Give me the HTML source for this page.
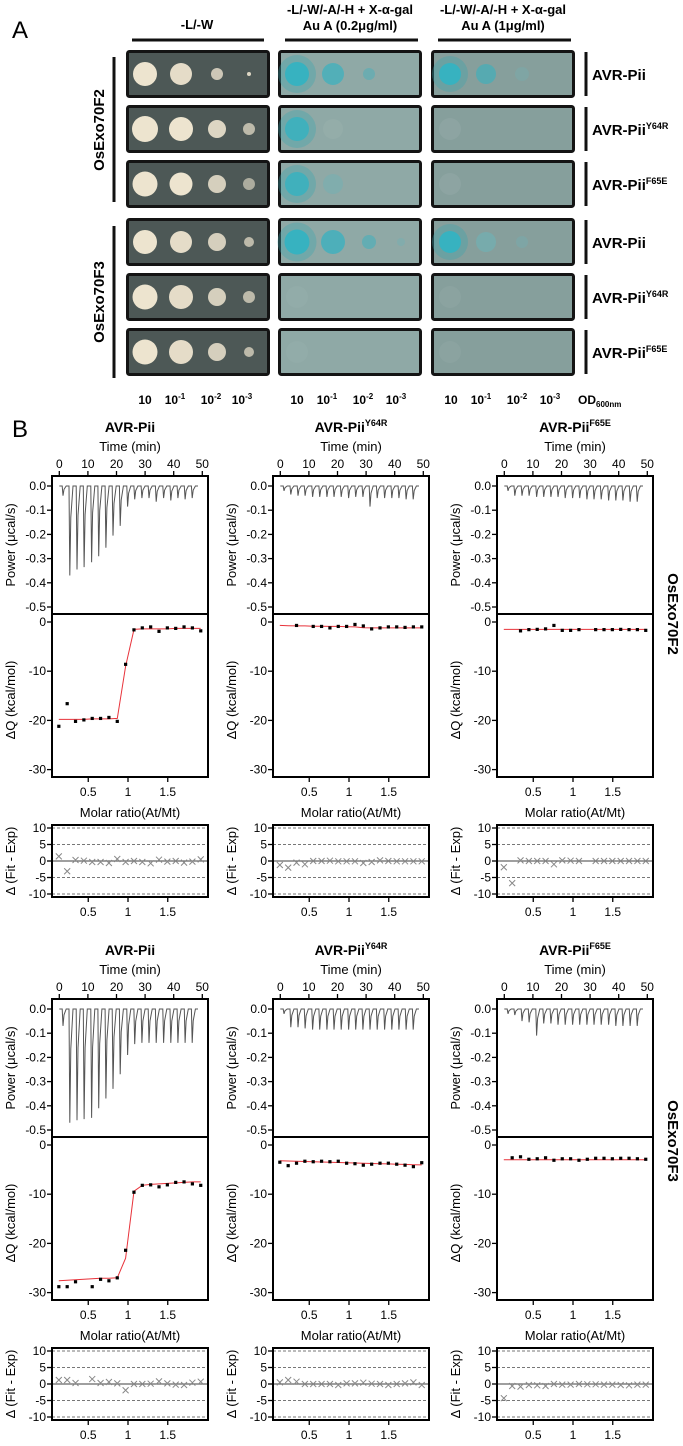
<!DOCTYPE html>
<html><head><meta charset="utf-8">
<style>
html,body{margin:0;padding:0;background:#fff;}
svg{display:block;font-family:"Liberation Sans",Arial,sans-serif;}
</style></head>
<body>
<svg id="fig" width="683" height="1446" viewBox="0 0 683 1446" xmlns="http://www.w3.org/2000/svg">
  <text x="12" y="38" font-size="24">A</text>
  <text x="12" y="437" font-size="24">B</text>
  <g font-weight="bold" font-size="13" text-anchor="middle">
    <text x="197" y="29">-L/-W</text>
    <text x="350" y="14">-L/-W/-A/-H + X-α-gal</text>
    <text x="350" y="30">Au A (0.2μg/ml)</text>
    <text x="503" y="14">-L/-W/-A/-H + X-α-gal</text>
    <text x="503" y="30">Au A (1μg/ml)</text>
  </g>
  <g stroke="#111" stroke-width="3">
    <line x1="132" y1="40" x2="264" y2="40"/>
    <line x1="285" y1="40" x2="418" y2="40"/>
    <line x1="438" y1="40" x2="571" y2="40"/>
    <line x1="114" y1="57" x2="114" y2="202"/>
    <line x1="114" y1="226" x2="114" y2="378"/>
  </g>
  <text transform="translate(104,130) rotate(-90)" text-anchor="middle" font-weight="bold" font-size="15">OsExo70F2</text>
  <text transform="translate(104,302) rotate(-90)" text-anchor="middle" font-weight="bold" font-size="15">OsExo70F3</text>
  <g id="plates"></g>
  <g id="itc"></g>
  <text transform="translate(668,614) rotate(90)" text-anchor="middle" font-weight="bold" font-size="15">OsExo70F2</text>
  <text transform="translate(668,1141) rotate(90)" text-anchor="middle" font-weight="bold" font-size="15">OsExo70F3</text>
</svg>
<script>
// ---------- ITC data ----------
const injTimes = [1.0,3.4,5.9,8.4,11.0,13.5,16.0,18.5,21.0,23.6,26.1,28.6,31.1,33.6,36.2,38.7,41.2,43.7,46.2];
const molar = [0.13,0.235,0.34,0.445,0.55,0.655,0.76,0.865,0.97,1.075,1.18,1.285,1.39,1.495,1.6,1.705,1.81,1.915];

const powerF2WT = [-0.04,-0.37,-0.345,-0.335,-0.315,-0.29,-0.255,-0.205,-0.165,-0.085,-0.055,-0.05,-0.05,-0.065,-0.05,-0.06,-0.05,-0.055,-0.05];
const dqF2WT = [-21.2,-16.6,-20.2,-19.9,-19.6,-19.6,-19.4,-20.2,-8.6,-1.6,-1.2,-1.0,-1.9,-1.2,-1.3,-1.0,-1.2,-1.8];
const fitF2WT = [-19.8,-19.8,-19.8,-19.8,-19.7,-19.7,-19.7,-19.6,-9.0,-1.5,-1.4,-1.4,-1.4,-1.4,-1.3,-1.3,-1.3,-1.3];
const resF2WT = [1.4,-3.1,0.3,0.1,-0.3,-0.3,-0.6,0.6,-0.3,0,-0.3,-0.7,0.4,-0.2,0,-0.5,-0.2,0.5];

const powerF2Y64R = [-0.02,-0.035,-0.04,-0.04,-0.045,-0.045,-0.045,-0.045,-0.045,-0.05,-0.045,-0.045,-0.085,-0.05,-0.05,-0.05,-0.05,-0.055,-0.055];
const dqF2Y64R = [null,null,-0.7,null,-0.9,-0.9,-1.2,-0.9,-0.9,-0.5,-0.8,-1.4,-1.2,-1.0,-1.0,-1.1,-1.0,-1.0];
const fitF2Y64R = [-0.7,-0.75,-0.8,-0.8,-0.85,-0.85,-0.9,-0.9,-0.95,-1.0,-1.15,-1.2,-1.2,-1.2,-1.2,-1.2,-1.2,-1.2];
const resF2Y64R = [-1.2,-2.0,-0.5,-1.0,0,0,0.1,-0.1,-0.1,-0.1,-0.6,-0.3,0.2,0,-0.1,-0.1,-0.1,-0.1];

const powerF2F65E = [-0.02,-0.04,-0.04,-0.04,-0.045,-0.045,-0.045,-0.045,-0.05,-0.05,-0.05,-0.055,-0.055,-0.055,-0.06,-0.06,-0.06,-0.065,-0.065];
const dqF2F65E = [null,null,-1.8,-1.55,-1.5,-1.4,-0.7,-1.7,-1.7,-1.55,null,-1.55,-1.55,-1.55,-1.5,-1.55,-1.55,-1.7];
const fitF2F65E = [-1.5,-1.5,-1.5,-1.5,-1.5,-1.5,-1.5,-1.5,-1.5,-1.5,-1.5,-1.5,-1.5,-1.5,-1.5,-1.5,-1.5,-1.5];
const resF2F65E = [-1.9,-6.7,0.2,0,0,0,-1.0,0.2,0.1,0,null,0,0,0,0,0,0,0];

const powerF3WT = [-0.07,-0.47,-0.46,-0.455,-0.45,-0.41,-0.37,-0.33,-0.27,-0.19,-0.145,-0.14,-0.14,-0.14,-0.14,-0.14,-0.14,-0.14,-0.14];
const dqF3WT = [-28.8,-28.8,-27.8,null,-28.8,-27.3,-27.6,-27.0,-21.4,-9.6,-8.2,-8.1,-8.5,-8.1,-7.6,-7.5,-7.9,-8.2];
const fitF3WT = [-27.6,-27.5,-27.4,-27.3,-27.2,-27.1,-27.1,-27.0,-23.0,-9.4,-8.2,-8.0,-7.9,-7.8,-7.7,-7.6,-7.5,-7.5];
const resF3WT = [1.2,1.2,0.3,null,1.5,0.3,0.6,0.2,-1.9,0,0,0.1,0.8,0.2,-0.2,-0.3,0.4,0.7];

const powerF3Y64R = [-0.02,-0.075,-0.075,-0.08,-0.085,-0.085,-0.085,-0.085,-0.085,-0.085,-0.085,-0.085,-0.085,-0.085,-0.085,-0.085,-0.085,-0.085,-0.085];
const dqF3Y64R = [-3.5,-4.2,-3.7,-3.3,-3.4,-3.3,-3.4,-3.3,-3.7,-3.8,-4.1,-3.9,-3.7,-3.7,-3.9,-4.1,-4.4,-3.6];
const fitF3Y64R = [-3.2,-3.25,-3.3,-3.35,-3.4,-3.45,-3.5,-3.55,-3.6,-3.65,-3.7,-3.75,-3.8,-3.85,-3.9,-3.95,-4.0,-4.05];
const resF3Y64R = [0.5,1.2,0.7,0,0,0,0,-0.3,0.2,0.2,0.4,0.1,0,-0.3,0,0.2,0.5,-0.3];

const powerF3F65E = [-0.02,-0.025,-0.05,-0.055,-0.11,-0.06,-0.06,-0.065,-0.065,-0.065,-0.065,-0.065,-0.065,-0.065,-0.065,-0.07,-0.07,-0.07,-0.07];
const dqF3F65E = [null,-2.6,-2.4,-2.9,-2.8,-2.6,-3.1,-2.8,-2.8,-3.1,-2.9,-2.7,-2.7,-2.8,-2.7,-2.7,-2.8,-2.9];
const fitF3F65E = [-3.0,-3.0,-3.0,-3.0,-3.0,-3.0,-3.0,-3.0,-3.0,-3.0,-3.0,-3.0,-3.0,-3.0,-3.0,-3.0,-3.0,-3.0];
const resF3F65E = [-4.3,-0.6,-0.8,-0.3,-0.4,-0.6,0,-0.2,-0.2,0,-0.1,-0.1,-0.2,-0.2,-0.3,-0.4,-0.2,-0.2];

const timeTicks = [0,10,20,30,40,50];
const powerTicks = [0.0,-0.1,-0.2,-0.3,-0.4,-0.5];
const dqTicks = [0,-10,-20,-30];
const resTicks = [10,5,0,-5,-10];
const molarTicks = [0.5,1,1.5];

// ---------- panel A data ----------
const dilutionLabels = ['10','10','10','10'];
const dilutionExps = ['','-1','-2','-3'];
const constructNames = ['Y64R','F65E'];

const NS = 'http://www.w3.org/2000/svg';
function el(tag, attrs, parent){
  const e = document.createElementNS(NS, tag);
  for (const k in attrs) e.setAttribute(k, attrs[k]);
  parent.appendChild(e);
  return e;
}

// ---------- Panel A plates ----------
const plates = document.getElementById('plates');
const plateLefts = [126,278,431];
const plateTops = [50,105,160,218,273,328];
const plateBg = ['#4d5856','#8fa9a6','#869f9c'];
const spotOff = [19,55,91,123];
const cream = '#ede4cf', blue = '#37b2c0', fblue = '#6fb2b6', ghost = '#9cb3b0', ghost3 = '#93aaa7';
// spot specs: [color, radius, opacity] for each of 4 dilutions
const spotsCol1 = [
  [[cream,12,1],[cream,11,0.95],[cream,6,0.8],[cream,2,0.9]],
  [[cream,13,1],[cream,12,1],[cream,9,0.9],[cream,6,0.7]],
  [[cream,12.5,1],[cream,11.5,1],[cream,9,0.85],[cream,6,0.6]],
  [[cream,12,1],[cream,11,0.95],[cream,9,0.85],[cream,5,0.7]],
  [[cream,12.5,1],[cream,12,0.95],[cream,9,0.85],[cream,6,0.7]],
  [[cream,12.5,1],[cream,12,0.95],[cream,9,0.85],[cream,5,0.7]]
];
const spotsCol2 = [
  [[blue,12,1],[blue,11,0.7],[blue,6,0.4],[ghost,3,0]],
  [[blue,12,0.85],[ghost,10,0.4],[ghost,3,0],[ghost,3,0]],
  [[blue,12,0.85],[fblue,10,0.45],[ghost,3,0],[ghost,3,0]],
  [[blue,12.5,1],[blue,12,0.75],[blue,7,0.5],[fblue,4,0.4]],
  [[ghost,11,0.3],[ghost,3,0],[ghost,3,0],[ghost,3,0]],
  [[ghost,11,0.3],[ghost,3,0],[ghost,3,0],[ghost,3,0]]
];
const spotsCol3 = [
  [[blue,11,1],[blue,10,0.6],[fblue,7,0.3],[ghost,3,0]],
  [[ghost3,11,0.5],[ghost,3,0],[ghost,3,0],[ghost,3,0]],
  [[ghost3,11,0.5],[ghost,3,0],[ghost,3,0],[ghost,3,0]],
  [[blue,11,1],[fblue,10,0.65],[fblue,6,0.35],[ghost,3,0]],
  [[ghost3,11,0.4],[ghost,3,0],[ghost,3,0],[ghost,3,0]],
  [[ghost3,11,0.4],[ghost,3,0],[ghost,3,0],[ghost,3,0]]
];
const allSpots = [spotsCol1, spotsCol2, spotsCol3];
const rowConstruct = ['', 'Y64R', 'F65E', '', 'Y64R', 'F65E'];
for (let c = 0; c < 3; c++) {
  for (let r = 0; r < 6; r++) {
    const g = el('g', {}, plates);
    
    
    el('rect', {x: plateLefts[c]+1.5, y: plateTops[r]+1.5, width: 141, height: 45, rx: 2, fill: plateBg[c], stroke: '#141414', 'stroke-width': 3}, g);
    const sp = allSpots[c][r];
    for (let k = 0; k < 4; k++) {
      const s = sp[k];
      if (s[2] <= 0) continue;
      const cx = plateLefts[c] + spotOff[k], cy = plateTops[r] + 24;
      if (s[0] === blue && k === 0) {
        el('circle', {cx: cx, cy: cy, r: s[1]+7, fill: '#3aa6b0', opacity: 0.35}, g);
      }
      const spot = el('circle', {cx: cx, cy: cy, r: s[1], fill: s[0], opacity: s[2]}, g);
      
      
    }
  }
}
// right labels
for (let r = 0; r < 6; r++) {
  const ln = el('line', {x1: 586, y1: plateTops[r]+2, x2: 586, y2: plateTops[r]+46, stroke: '#111', 'stroke-width': 3}, plates);
  
  
  const t = el('text', {x: 592, y: plateTops[r]+30, 'font-size': 15, 'font-weight': 'bold'}, plates);
  
  
  t.appendChild(document.createTextNode('AVR-Pii'));
  if (rowConstruct[r]) {
    const ts = el('tspan', {'font-size': 9, dy: -6}, t);
    ts.textContent = rowConstruct[r];
  }
}
// dilution labels
const dilX = [[145,181,217,248],[297,333,369,402],[451,487,523,556]];
for (let c = 0; c < 3; c++) {
  for (let k = 0; k < 4; k++) {
    const t = el('text', {x: dilX[c][k] - (k ? 6 : 0), y: 404, 'font-size': 12, 'font-weight': 'bold', 'text-anchor': 'middle'}, plates);
    
    
    t.appendChild(document.createTextNode(dilutionLabels[k]));
    if (dilutionExps[k]) {
      const ts = el('tspan', {'font-size': 8, dy: -5}, t);
      ts.textContent = dilutionExps[k];
    }
  }
}
{
  const t = el('text', {x: 578, y: 404, 'font-size': 12, 'font-weight': 'bold'}, plates);
  
  
  t.appendChild(document.createTextNode('OD'));
  const ts = el('tspan', {'font-size': 8, dy: 3}, t);
  ts.textContent = '600nm';
}

// ---------- ITC panels ----------
const itc = document.getElementById('itc');
const colX = [52, 273, 497];
const W = 156;
const titles = [['AVR-Pii',''],['AVR-Pii','Y64R'],['AVR-Pii','F65E']];
const panelsData = [
  [[powerF2WT,dqF2WT,fitF2WT,resF2WT],[powerF2Y64R,dqF2Y64R,fitF2Y64R,resF2Y64R],[powerF2F65E,dqF2F65E,fitF2F65E,resF2F65E]],
  [[powerF3WT,dqF3WT,fitF3WT,resF3WT],[powerF3Y64R,dqF3Y64R,fitF3Y64R,resF3Y64R],[powerF3F65E,dqF3F65E,fitF3F65E,resF3F65E]]
];

function drawPanel(row, col) {
  const x0 = colX[col], dy = row * 523;
  const [pw, dq, fit, res] = panelsData[row][col];
  const g = el('g', {}, itc);
  
  
  const tx = t => x0 + 7.3 + t * 2.86;
  const py = p => dy + 486 - p * 242;
  const mx = m => x0 - 3.5 + m * 79.5;
  const qy = q => dy + 622 - q * 4.92;
  const ry = r => dy + 861 - r * 3.3;
  const cx = x0 + W/2;

  // title
  const tt = el('text', {x: cx, y: dy + 432, 'font-size': 14, 'font-weight': 'bold', 'text-anchor': 'middle'}, g);
  
  
  tt.appendChild(document.createTextNode(titles[col][0]));
  if (titles[col][1]) { const s = el('tspan', {'font-size': 9, dy: -6}, tt); s.textContent = titles[col][1]; }
  const tl = el('text', {x: cx, y: dy + 451, 'font-size': 13, 'text-anchor': 'middle'}, g);
  
  
  tl.textContent = 'Time (min)';
  timeTicks.forEach(t => {
    el('line', {x1: tx(t), y1: dy + 476, x2: tx(t), y2: dy + 471, stroke: '#000', 'stroke-width': 1.3}, g);
    const l = el('text', {x: tx(t), y: dy + 468, 'font-size': 12, 'text-anchor': 'middle'}, g);
    
    
    l.textContent = t;
  });
  // power ticks
  powerTicks.forEach(p => {
    el('line', {x1: x0 - 5, y1: py(p), x2: x0, y2: py(p), stroke: '#000', 'stroke-width': 1.3}, g);
    const l = el('text', {x: x0 - 6, y: py(p) + 4, 'font-size': 12, 'text-anchor': 'end'}, g);
    
    
    l.textContent = p.toFixed(1);
  });
  const pt = el('text', {transform: `translate(${x0-37},${dy+545}) rotate(-90)`, 'font-size': 13, 'text-anchor': 'middle'}, g);
  
  
  pt.textContent = 'Power (μcal/s)';
  // power trace
  let d = `M${tx(0).toFixed(1)},${py(0).toFixed(1)}`;
  injTimes.forEach((t, i) => {
    const x = tx(t);
    d += ` L${x.toFixed(1)},${py(0).toFixed(1)} L${(x+0.8).toFixed(1)},${py(pw[i]).toFixed(1)} L${(x+1.8).toFixed(1)},${py(pw[i]*0.35).toFixed(1)} L${(x+4).toFixed(1)},${py(0).toFixed(1)}`;
  });
  d += ` L${tx(48.5).toFixed(1)},${py(0).toFixed(1)}`;
  const tr = el('path', {d: d, fill: 'none', stroke: '#555', 'stroke-width': 1}, g);
  
  

  // dQ
  dqTicks.forEach(q => {
    el('line', {x1: x0 - 5, y1: qy(q), x2: x0, y2: qy(q), stroke: '#000', 'stroke-width': 1.3}, g);
    const l = el('text', {x: x0 - 6, y: qy(q) + 4, 'font-size': 12, 'text-anchor': 'end'}, g);
    
    
    l.textContent = q;
  });
  const qt = el('text', {transform: `translate(${x0-37},${dy+700}) rotate(-90)`, 'font-size': 13, 'text-anchor': 'middle'}, g);
  
  
  qt.textContent = 'ΔQ (kcal/mol)';
  let fd = '';
  fit.forEach((f, i) => { fd += (i ? ' L' : 'M') + mx(molar[i]).toFixed(1) + ',' + qy(f).toFixed(1); });
  const fl = el('path', {d: fd, fill: 'none', stroke: '#e8323a', 'stroke-width': 1}, g);
  
  
  dq.forEach((q, i) => {
    if (q === null) return;
    const p = el('rect', {x: mx(molar[i]) - 1.6, y: qy(q) - 1.6, width: 3.2, height: 3.2, fill: '#000'}, g);
    
    
  });
  molarTicks.forEach(m => {
    el('line', {x1: mx(m), y1: dy + 777, x2: mx(m), y2: dy + 782, stroke: '#000', 'stroke-width': 1.3}, g);
    const l = el('text', {x: mx(m), y: dy + 796, 'font-size': 12, 'text-anchor': 'middle'}, g);
    
    
    l.textContent = m;
  });
  const mt = el('text', {x: cx, y: dy + 817, 'font-size': 13, 'text-anchor': 'middle'}, g);
  
  
  mt.textContent = 'Molar ratio(At/Mt)';

  // residuals
  resTicks.forEach(r => {
    if (r !== 0) el('line', {x1: x0, y1: ry(r), x2: x0 + W, y2: ry(r), stroke: '#777', 'stroke-width': 0.9, 'stroke-dasharray': '3,2'}, g);
    el('line', {x1: x0 - 5, y1: ry(r), x2: x0, y2: ry(r), stroke: '#000', 'stroke-width': 1.3}, g);
    const l = el('text', {x: x0 - 6, y: ry(r) + 4, 'font-size': 12, 'text-anchor': 'end'}, g);
    
    
    l.textContent = r;
  });
  el('line', {x1: x0, y1: ry(0), x2: x0 + W, y2: ry(0), stroke: '#666', 'stroke-width': 1.2}, g);
  const rt = el('text', {transform: `translate(${x0-37},${dy+861}) rotate(-90)`, 'font-size': 13, 'text-anchor': 'middle'}, g);
  
  
  rt.textContent = 'Δ (Fit - Exp)';
  res.forEach((r, i) => {
    if (r === null) return;
    const x = mx(molar[i]), y = ry(r);
    const p = el('path', {d: `M${x-3},${y-3} L${x+3},${y+3} M${x-3},${y+3} L${x+3},${y-3}`, stroke: '#888', 'stroke-width': 1, fill: 'none'}, g);
    
    
  });
  molarTicks.forEach(m => {
    el('line', {x1: mx(m), y1: dy + 897, x2: mx(m), y2: dy + 902, stroke: '#000', 'stroke-width': 1.3}, g);
    const l = el('text', {x: mx(m), y: dy + 916, 'font-size': 12, 'text-anchor': 'middle'}, g);
    
    
    l.textContent = m;
  });

  // frames
  el('rect', {x: x0, y: dy + 476, width: W, height: 301, fill: 'none', stroke: '#000', 'stroke-width': 2}, g);
  el('line', {x1: x0, y1: dy + 614, x2: x0 + W, y2: dy + 614, stroke: '#000', 'stroke-width': 2}, g);
  el('rect', {x: x0, y: dy + 825, width: W, height: 72, fill: 'none', stroke: '#000', 'stroke-width': 2}, g);
}
for (let r = 0; r < 2; r++) for (let c = 0; c < 3; c++) drawPanel(r, c);
</script>
</body></html>
